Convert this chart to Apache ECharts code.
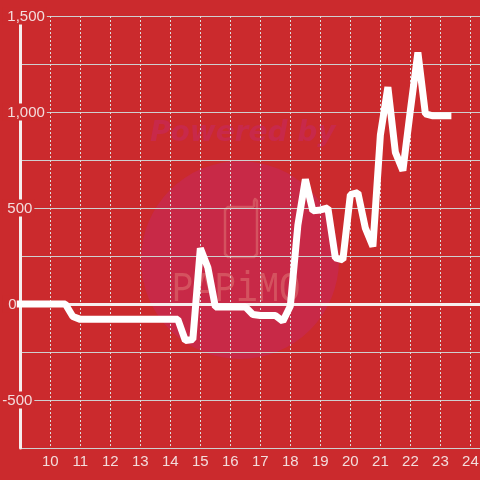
<!DOCTYPE html>
<html>
<head>
<meta charset="utf-8">
<style>
html, body { margin: 0; padding: 0; }
#chart { width: 480px; height: 480px; }
</style>
<script src="https://cdn.jsdelivr.net/npm/echarts@6/dist/echarts.min.js"></script>
</head>
<body>
<div id="chart"></div>
<script>
const hours = [9, 9.25, 9.5, 9.75, 10, 10.25, 10.5, 10.75, 11, 11.25, 11.5, 11.75, 12, 12.25, 12.5, 12.75,
  13, 13.25, 13.5, 13.75, 14, 14.25, 14.5, 14.75, 15, 15.25, 15.5, 15.75, 16, 16.25, 16.5, 16.75,
  17, 17.25, 17.5, 17.75, 18, 18.25, 18.5, 18.75, 19, 19.25, 19.5, 19.75, 20, 20.25, 20.5, 20.75,
  21, 21.25, 21.5, 21.75, 22, 22.25, 22.5, 22.75, 23, 23.25];
const values = [0, 0, 0, 0, 0, 0, 0, -65, -80, -80, -80, -80, -80, -80, -80, -80,
  -80, -80, -80, -80, -80, -80, -190, -185, 290, 190, -15, -15, -15, -15, -15, -55,
  -60, -60, -60, -90, -10, 410, 650, 485, 490, 500, 240, 230, 570, 580, 395, 300,
  880, 1130, 790, 695, 1010, 1310, 990, 980, 980, 980];
const bgColor = "#cb2a2d";
const textColor = "#f3dcdc";
const labelBox = { backgroundColor: bgColor, color: textColor, fontFamily: "Liberation Sans", fontSize: 15 };

function yLabel(v) {
  if (v % 500 !== 0) return "";
  if (v === 0) return "{zero|0}";
  if (v < 0) return "{neg|" + v + "}";
  return "{pos|" + (v >= 1000 ? String(v).replace(/(\d)(\d{3})$/, "$1,$2") : v) + "}";
}

const chart = echarts.init(document.getElementById("chart"));
chart.setOption({
  backgroundColor: bgColor,
  animation: false,
  grid: { left: 20.3, right: 0, top: 16, bottom: 32, outerBoundsMode: "none" },
  xAxis: {
    type: "value",
    min: 9,
    max: 24.32,
    interval: 1,
    axisLine: { onZero: true, lineStyle: { color: "#f6eeee", width: 3 } },
    axisTick: { show: false },
    axisLabel: {
      showMinLabel: false,
      showMaxLabel: false,
      color: textColor,
      fontFamily: "Liberation Sans",
      fontSize: 15,
      margin: 6
    },
    splitLine: { lineStyle: { color: "#dddddd", width: 1, type: [2, 2] } }
  },
  yAxis: {
    type: "value",
    min: -750,
    max: 1500,
    interval: 250,
    axisLine: { show: true, onZero: false, lineStyle: { color: "#f6eeee", width: 3 } },
    axisTick: { show: false },
    axisLabel: {
      align: "left",
      margin: 18,
      formatter: yLabel,
      rich: {
        pos: Object.assign({ padding: [2, 2, 0, 5] }, labelBox),
        zero: Object.assign({ padding: [2, 2, 0, 6] }, labelBox),
        neg: Object.assign({ padding: [2, 2, 0, 0] }, labelBox)
      }
    },
    splitLine: { lineStyle: { color: "#cfcfcf", width: 1 } }
  },
  graphic: [
    { type: "circle", z: -1, shape: { cx: 240, cy: 260, r: 99 }, style: { fill: "#c82947" } },
    { type: "text", z: -1, x: 150, y: 120, style: { text: "Powered by", fill: "#c8294a", font: 'italic bold 28px "DejaVu Sans"' } },
    { type: "polyline", z: -1, shape: { points: [[254, 207], [228, 207], [225, 210], [225, 254], [228, 257], [254, 257], [257, 254], [257, 201], [255, 199], [254, 201], [254, 207]] }, style: { fill: "none", stroke: "#d4525f", lineWidth: 2.5, lineJoin: "round" } },
    { type: "text", z: -1, x: 172, y: 269, scaleX: 0.85, style: { text: "PAPiMO", fill: "#d4525f", font: '42px "Liberation Mono"' } }
  ],
  series: [
    {
      type: "line",
      data: hours.map((h, i) => [h, values[i]]),
      showSymbol: false,
      clip: false,
      lineStyle: { color: "#ffffff", width: 7, cap: "square", join: "bevel" }
    }
  ]
});
</script>
</body>
</html>
